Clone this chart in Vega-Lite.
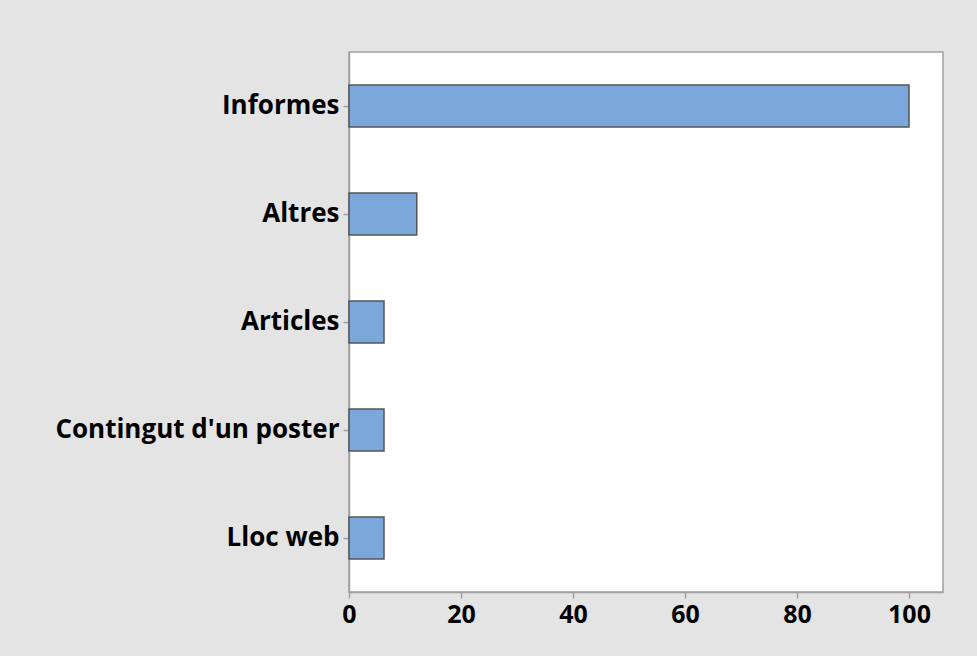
{
  "$schema": "https://vega.github.io/schema/vega-lite/v6.json",
  "width": 594,
  "height": 540,
  "autosize": {"type": "none"},
  "padding": {"left": 349, "top": 52, "right": 34, "bottom": 64},
  "background": "#e4e4e4",
  "config": {
    "view": {"fill": "#ffffff", "stroke": "#a0a0a0", "strokeWidth": 1.5},
    "font": "Open Sans"
  },
  "data": {
    "values": [
      {"categoria": "Informes", "valor": 100},
      {"categoria": "Altres", "valor": 12.1},
      {"categoria": "Articles", "valor": 6.25},
      {"categoria": "Contingut d'un poster", "valor": 6.25},
      {"categoria": "Lloc web", "valor": 6.25}
    ]
  },
  "mark": {"type": "bar", "color": "#7ba7da", "stroke": "#555555", "strokeWidth": 1.5},
  "encoding": {
    "y": {
      "field": "categoria",
      "type": "nominal",
      "sort": null,
      "scale": {"paddingInner": 0.61, "paddingOuter": 0.305},
      "axis": {
        "title": null,
        "labelFont": "Open Sans",
        "labelFontWeight": "bold",
        "labelFontSize": 26,
        "labelLimit": 400,
        "labelColor": "#000000",
        "tickColor": "#a0a0a0",
        "tickSize": 6,
        "tickWidth": 1.5,
        "domainColor": "#a0a0a0",
        "domainWidth": 1.5,
        "labelPadding": 4
      }
    },
    "x": {
      "field": "valor",
      "type": "quantitative",
      "scale": {"domain": [0, 106.07], "nice": false},
      "axis": {
        "title": null,
        "values": [0, 20, 40, 60, 80, 100],
        "grid": false,
        "labelFlush": false,
        "labelFont": "Open Sans",
        "labelFontWeight": "bold",
        "labelFontSize": 25,
        "labelColor": "#000000",
        "tickColor": "#a0a0a0",
        "tickSize": 6,
        "tickWidth": 1.5,
        "domainColor": "#a0a0a0",
        "domainWidth": 1.5,
        "labelPadding": 4
      }
    }
  }
}
